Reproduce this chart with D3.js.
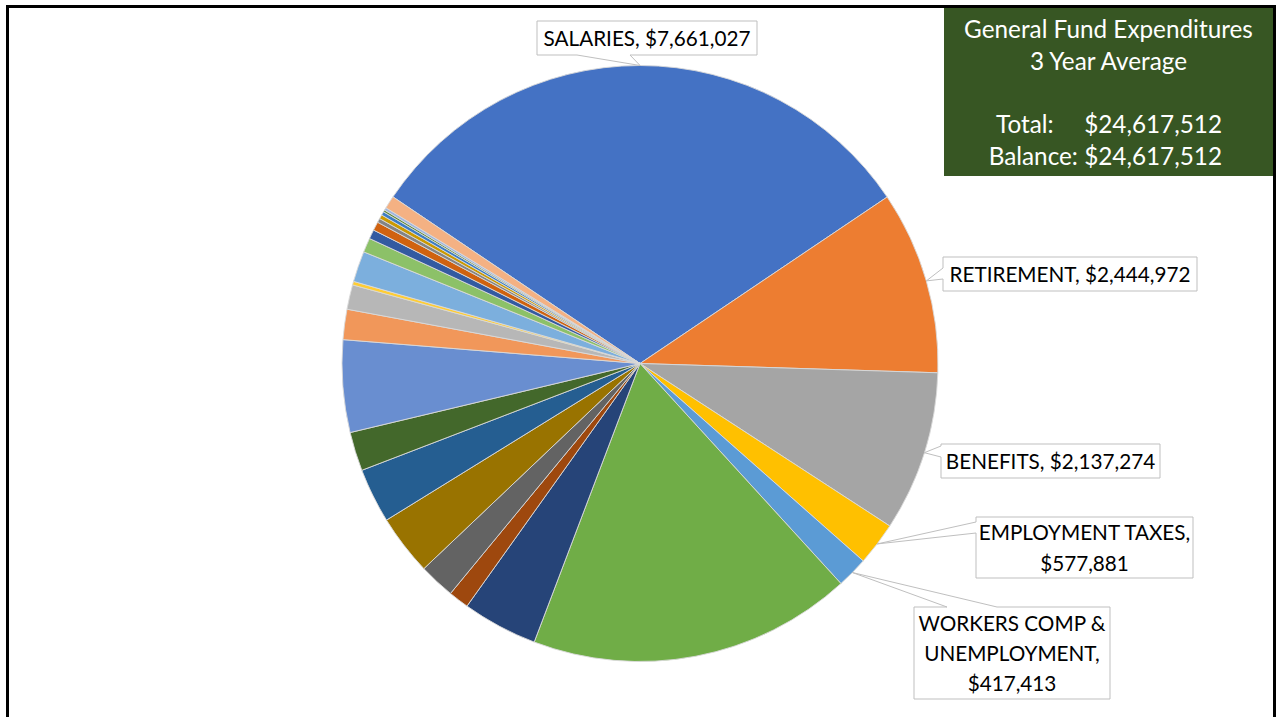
<!DOCTYPE html>
<html>
<head>
<meta charset="utf-8">
<script src="https://cdn.jsdelivr.net/npm/d3@7"></script>
<style>
  html, body { margin: 0; padding: 0; background: #ffffff; overflow: hidden; }
  svg { display: block; font-family: "Lato", "Open Sans", sans-serif; }
</style>
</head>
<body>
<svg id="chart" width="1276" height="717"></svg>
<script>
// General fund expenditure lines, three-year average (USD), in drawing order.
const categories = [
  "SALARIES", "RETIREMENT", "BENEFITS", "EMPLOYMENT TAXES", "WORKERS COMP & UNEMPLOYMENT",
  "Line 06", "Line 07", "Line 08", "Line 09", "Line 10", "Line 11", "Line 12",
  "Line 13", "Line 14", "Line 15", "Line 16", "Line 17", "Line 18", "Line 19",
  "Line 20", "Line 21", "Line 22", "Line 23", "Line 24", "Line 25", "Line 26"
];
const values = [
  7661027, 2444972, 2137274, 577881, 417413,
  4321745, 1005200, 273500, 478700, 806900, 731700, 519700,
  1230900, 403500, 328200, 47900, 410300, 191500, 123100,
  116200, 54700, 54700, 47900, 27400, 34200, 171000
];
// Categories that carry a value callout
const calloutCategories = ["SALARIES", "RETIREMENT", "BENEFITS", "EMPLOYMENT TAXES", "WORKERS COMP & UNEMPLOYMENT"];

const titleLines = ["General Fund Expenditures", "3 Year Average"];
const totalLabel = "Total:";
const balanceLabel = "Balance:";
const totalValue = 24617512;
const balanceValue = 24617512;

// Office-style series palette
const palette = [
  "#4472C4", "#ED7D31", "#A5A5A5", "#FFC000", "#5B9BD5", "#70AD47",
  "#264478", "#9E480E", "#636363", "#997300", "#255E91", "#43682B",
  "#698ED0", "#F1975A", "#B7B7B7", "#FFCD33", "#7CAFDD", "#8CC168",
  "#335AA1", "#D0620F", "#848484", "#CC9A00", "#3C7DC4", "#5A8A39",
  "#9DB5E0", "#F4B183"
];

// Callout boxes: box geometry, which edge the pointer leaves from, pointer base span,
// and the word index after which the category name wraps (value always on its own line when wrapped).
const calloutLayout = {
  "SALARIES":                    { x: 537, y: 21,  w: 220, h: 34, side: "bottom", base: [577, 630], wrap: null },
  "RETIREMENT":                  { x: 943, y: 257, w: 254, h: 34, side: "left",   base: [268, 279], wrap: null },
  "BENEFITS":                    { x: 941, y: 444, w: 219, h: 34, side: "left",   base: [446, 457], wrap: null },
  "EMPLOYMENT TAXES":            { x: 976, y: 517, w: 217, h: 61, side: "left",   base: [522, 533], wrap: [] },
  "WORKERS COMP & UNEMPLOYMENT": { x: 914, y: 607, w: 196, h: 92, side: "top",    base: [947, 997], wrap: [2] }
};

const svg = d3.select("#chart");
const W = 1276, H = 717;
const cx = 640, cy = 363.5, R = 298;
const rotation = -56 * Math.PI / 180;

const fmt = d3.format("$,");
const data = categories.map((c, i) => ({ name: c, value: values[i], color: palette[i % palette.length] }));

const pie = d3.pie().value(d => d.value).sort(null)
  .startAngle(rotation).endAngle(rotation + 2 * Math.PI);
const arcs = pie(data);
const arc = d3.arc().innerRadius(0).outerRadius(R);

const g = svg.append("g").attr("transform", `translate(${cx},${cy})`);
g.selectAll("path.slice")
  .data(arcs)
  .join("path")
  .attr("class", "slice")
  .attr("d", arc)
  .attr("fill", d => d.data.color)
  .attr("stroke", "#d9d9d9")
  .attr("stroke-width", 0.9)
  .attr("stroke-linejoin", "round");

// Measure a string at a given size to fit text to its box
function measure(text, size) {
  const t = svg.append("text").attr("font-size", size).text(text);
  const w = t.node().getComputedTextLength();
  t.remove();
  return w;
}
const calloutSize = 20 * 207 / measure("SALARIES, $7,661,027", 20);
const lineGap = calloutSize * 1.45;

function calloutPath(b, apex) {
  const x0 = b.x, y0 = b.y, x1 = b.x + b.w, y1 = b.y + b.h;
  const [a, c] = b.base;
  const [px, py] = apex;
  if (b.side === "top")
    return `M${x0},${y0}L${a},${y0}L${px},${py}L${c},${y0}L${x1},${y0}L${x1},${y1}L${x0},${y1}Z`;
  if (b.side === "bottom")
    return `M${x0},${y0}L${x1},${y0}L${x1},${y1}L${c},${y1}L${px},${py}L${a},${y1}L${x0},${y1}Z`;
  return `M${x0},${y0}L${x1},${y0}L${x1},${y1}L${x0},${y1}L${x0},${c}L${px},${py}L${x0},${a}Z`;
}

const callouts = svg.append("g");
arcs.filter(d => calloutCategories.includes(d.data.name)).forEach(d => {
  const b = calloutLayout[d.data.name];
  const mid = (d.startAngle + d.endAngle) / 2;
  const apex = [cx + R * Math.sin(mid), cy - R * Math.cos(mid)];

  callouts.append("path")
    .attr("d", calloutPath(b, apex))
    .attr("fill", "#ffffff")
    .attr("stroke", "#bfbfbf")
    .attr("stroke-width", 1);

  let lines;
  const valueText = fmt(d.data.value);
  if (b.wrap === null) {
    lines = [`${d.data.name}, ${valueText}`];
  } else {
    const words = d.data.name.split(" ");
    const cuts = [...b.wrap, words.length - 1];
    lines = [];
    let start = 0;
    cuts.forEach(k => { lines.push(words.slice(start, k + 1).join(" ")); start = k + 1; });
    lines[lines.length - 1] += ",";
    lines.push(valueText);
  }
  const midY = b.y + b.h / 2;
  lines.forEach((ln, i) => {
    callouts.append("text")
      .attr("x", b.x + b.w / 2)
      .attr("y", midY + (i - (lines.length - 1) / 2) * lineGap)
      .attr("text-anchor", "middle")
      .attr("dominant-baseline", "central")
      .attr("font-size", calloutSize)
      .attr("fill", "#000000")
      .text(ln);
  });
});

// Summary panel
const panel = svg.append("g");
panel.append("rect")
  .attr("x", 944).attr("y", 6).attr("width", 330).attr("height", 170)
  .attr("fill", "#375623");
const titleSize = 20 * 289 / measure(titleLines[0], 20);
const panelCx = 1108.5;
titleLines.forEach((t, i) => {
  panel.append("text")
    .attr("x", panelCx).attr("y", 28.5 + i * 31.5)
    .attr("text-anchor", "middle").attr("dominant-baseline", "central")
    .attr("font-size", titleSize).attr("fill", "#ffffff")
    .text(t);
});
// Total: label and amount spaced apart; Balance: label and amount run together
panel.append("text")
  .attr("x", 996).attr("y", 123.5)
  .attr("dominant-baseline", "central")
  .attr("font-size", titleSize).attr("fill", "#ffffff")
  .text(totalLabel);
panel.append("text")
  .attr("x", 1222).attr("y", 123.5)
  .attr("text-anchor", "end")
  .attr("dominant-baseline", "central")
  .attr("font-size", titleSize).attr("fill", "#ffffff")
  .text(fmt(totalValue));
panel.append("text")
  .attr("x", 1222).attr("y", 155)
  .attr("text-anchor", "end")
  .attr("dominant-baseline", "central")
  .attr("font-size", titleSize).attr("fill", "#ffffff")
  .text(`${balanceLabel} ${fmt(balanceValue)}`);

// Outer frame (open at the bottom edge of the view)
svg.append("path")
  .attr("d", `M7.5,${H + 5}L7.5,6.5L1274.5,6.5L1274.5,${H + 5}`)
  .attr("fill", "none")
  .attr("stroke", "#000000")
  .attr("stroke-width", 3);
</script>
</body>
</html>
